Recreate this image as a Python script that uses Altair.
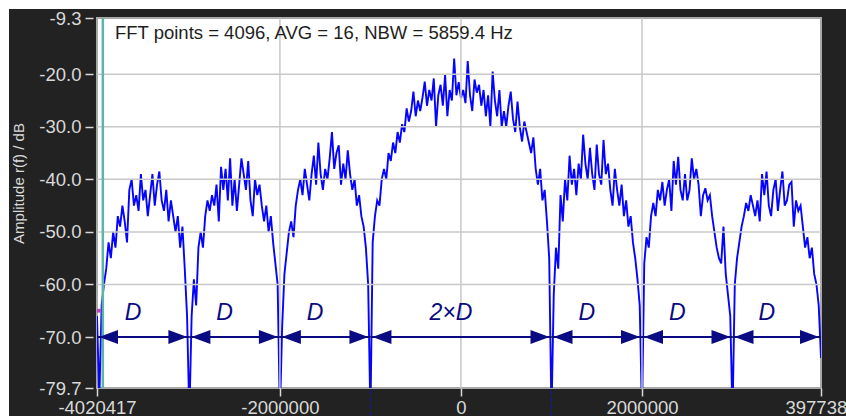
import altair as alt
import numpy as np
import pandas as pd

# ---------------- data ----------------
X_MIN, X_MAX = -4020417, 3977383
Y_MIN, Y_MAX = -79.7, -9.3

x_ticks = [-4020417, -2000000, 0, 2000000, 3977383]
y_ticks = [-79.7, -70.0, -60.0, -50.0, -40.0, -30.0, -20.0, -9.3]
x_grid = [-2000000, 0, 2000000]
y_grid = [-70.0, -60.0, -50.0, -40.0, -30.0, -20.0]

# spectrum nulls / lobe boundaries (Hz)
lobe_edges = [-4020417, -3000000, -2000000, -1000000, 1000000, 2000000, 3000000, 3977383]

# amplitude readings (dB) across each lobe
lobe_1 = [-66, -82, -64, -60, -57, -52, -55, -50, -53, -47, -49, -45, -48, -52, -42, -40,
          -45, -43, -46, -39, -44, -42, -47, -43, -39, -45, -41, -38.5, -44, -46, -42, -48,
          -44, -47, -50, -47, -53, -49, -57, -66]
lobe_2 = [-85, -66, -59, -64, -53, -50, -53, -47, -44, -46, -43, -45, -41, -48, -37.6, -42,
          -38, -44, -36, -45, -40, -46, -41, -36, -39, -42, -36.5, -44, -47, -40, -43, -41,
          -45, -48, -45, -50, -47, -52, -56, -60]
lobe_3 = [-85, -68, -58, -54, -50, -48, -51, -45, -42, -40, -43, -38, -41, -44, -39, -35.5,
          -41, -33, -39, -42, -38, -40, -36, -31, -38, -35, -33.5, -41, -37, -40, -34.5, -39,
          -42, -40, -45, -43, -47, -49, -53, -60]
lobe_main = [-85, -52, -47, -44, -45, -40, -38, -40, -35, -36.5, -33, -35, -31, -33, -29.5, -31,
             -26.5, -29, -27, -23.3, -28, -25, -27, -24.5, -21.4, -26, -23, -25, -20.8, -30, -24, -22,
             -26, -20.1, -28, -23, -25, -17, -24, -21.5, -24.5, -23, -25.5, -17.5, -24, -27, -21, -23.5,
             -22, -26, -23, -28, -24, -30, -19.5, -25, -28, -23, -30, -27, -30, -26, -23.3, -28.5,
             -31, -25.2, -30, -32.8, -29, -31, -33, -35, -32, -37.9, -41, -38, -44, -42, -48, -55]
lobe_5 = [-85, -62, -53, -57, -43, -48, -40, -44, -35.5, -41, -38, -43, -37, -40, -31.5, -37,
          -40, -34, -39, -42, -33.4, -39, -41, -32.5, -39, -37, -42, -45, -38, -42, -45, -41,
          -47, -44, -49, -47, -52, -55, -59, -64]
lobe_6 = [-85, -56, -51, -53, -47, -44.5, -47, -42, -44, -40.5, -45, -42, -40, -46, -36.5, -41,
          -35.7, -42, -44, -39, -44, -42, -36, -40, -38, -41, -47, -43, -41.7, -44, -43, -47,
          -50, -53, -55, -56, -49, -58, -62, -66]
lobe_7 = [-85, -60, -55, -52, -49, -47, -44.5, -46, -43, -45, -47, -44, -48, -39, -43, -38.5,
          -45, -47, -42, -40, -46, -42, -38.5, -45, -44, -41, -40.5, -49, -44, -46, -45, -49,
          -53, -51, -55, -53, -58, -60, -64, -74]
lobes = [lobe_1, lobe_2, lobe_3, lobe_main, lobe_5, lobe_6, lobe_7]

span_labels = ["D", "D", "D", "2\u00d7D", "D", "D", "D"]
arrow_level = -70.0
label_level = -65.4
marker_top = -76.2          # where the dashed markers start
dashed_marks = [-1000000, 1000000]
cursor_f = -3956000
cursor_marker = (-4000000, -65.0)

annotation = "FFT points = 4096, AVG = 16, NBW = 5859.4 Hz"
annotation_pos = (-3822000, -13.3)
y_title = "Amplitude r(f) / dB"

# ---------------- tables ----------------
rows = []
for i, vals in enumerate(lobes):
    last = i == len(lobes) - 1
    fs = np.linspace(lobe_edges[i], lobe_edges[i + 1], len(vals), endpoint=last)
    rows += list(zip(fs, vals))
spec = pd.DataFrame(rows, columns=["f", "amp"])

seg = pd.DataFrame({
    "start": lobe_edges[:-1],
    "end": lobe_edges[1:],
    "label": span_labels,
})
seg["mid"] = (seg["start"] + seg["end"]) / 2

xs = alt.Scale(domain=[X_MIN, X_MAX], nice=False, zero=False)
ys = alt.Scale(domain=[Y_MIN, Y_MAX], nice=False, zero=False)

LABEL_COL = "#d9d9d9"
NAVY = "#0a0a82"
FONT = "Liberation Sans"

neg_fmt_y = "datum.value < 0 ? '-' + format(-datum.value, '.1f') : format(datum.value, '.1f')"
neg_fmt_x = "datum.value < 0 ? '-' + format(-datum.value, 'd') : format(datum.value, 'd')"

x_axis = alt.Axis(
    values=x_ticks, labelExpr=neg_fmt_x, grid=False, domain=False, tickSize=8,
    tickColor=LABEL_COL, tickWidth=1.5, labelColor=LABEL_COL, labelFontSize=18.5,
    labelFont=FONT, labelPadding=2, labelFlush=False, labelOverlap=False, title=None)
y_axis = alt.Axis(
    values=y_ticks, labelExpr=neg_fmt_y, grid=False, domain=False, tickSize=8,
    tickColor=LABEL_COL, tickWidth=1.5, labelColor=LABEL_COL, labelFontSize=18.5,
    labelFont=FONT, labelPadding=4, offset=4, labelFlush=False, labelOverlap=False,
    title=y_title, titleColor=LABEL_COL, titleFontSize=15, titleFont=FONT,
    titleFontWeight="normal", titleX=-75, titleY=165, titleAngle=270,
    titleAlign="center", titleBaseline="middle")

line = alt.Chart(spec).mark_line(color="#0505ff", strokeWidth=1.9, clip=True).encode(
    x=alt.X("f:Q", scale=xs, axis=x_axis),
    y=alt.Y("amp:Q", scale=ys, axis=y_axis),
    order="f:Q",
)

# white margin strips of the window
strip_top = alt.Chart(pd.DataFrame({"k": [0]})).mark_rect(color="white").encode(
    x=alt.value(-97), x2=alt.value(749), y=alt.value(-18), y2=alt.value(-9))
strip_left = alt.Chart(pd.DataFrame({"k": [0]})).mark_rect(color="white").encode(
    x=alt.value(-97), x2=alt.value(-88), y=alt.value(-18), y2=alt.value(398))

grid_v = alt.Chart(pd.DataFrame({"f": x_grid})).mark_rule(color="#c8c8c8", strokeWidth=1.5).encode(
    x=alt.X("f:Q", scale=xs))
grid_h = alt.Chart(pd.DataFrame({"amp": y_grid})).mark_rule(color="#c8c8c8", strokeWidth=1.5).encode(
    y=alt.Y("amp:Q", scale=ys))

cursor = alt.Chart(pd.DataFrame({"f": [cursor_f]})).mark_rule(
    color="#5fb3ad", strokeWidth=2.5).encode(x=alt.X("f:Q", scale=xs))

marker = alt.Chart(pd.DataFrame({"f": [cursor_marker[0]], "amp": [cursor_marker[1]]})).mark_point(
    shape="square", filled=True, color="#c040c0", size=14, opacity=1).encode(
    x=alt.X("f:Q", scale=xs), y=alt.Y("amp:Q", scale=ys))

dashed = alt.Chart(pd.DataFrame({"f": dashed_marks})).mark_rule(
    color="#1a1a8c", strokeWidth=1.5, strokeDash=[4, 3]).encode(
    x=alt.X("f:Q", scale=xs), y=alt.datum(marker_top), y2=alt.value(398))

arrow_line = alt.Chart(seg).mark_rule(color=NAVY, strokeWidth=2).encode(
    x=alt.X("start:Q", scale=xs), x2="end:Q",
    y=alt.datum(arrow_level))

head_r = alt.Chart(seg).mark_point(
    shape="M-1,-0.37L0,0L-1,0.37Z", size=1444, filled=True, color=NAVY, opacity=1,
    strokeWidth=0, xOffset=-2).encode(
    x=alt.X("end:Q", scale=xs), y=alt.datum(arrow_level))
head_l = alt.Chart(seg).mark_point(
    shape="M1,-0.37L0,0L1,0.37Z", size=1444, filled=True, color=NAVY, opacity=1,
    strokeWidth=0, xOffset=2).encode(
    x=alt.X("start:Q", scale=xs), y=alt.datum(arrow_level))

dlabels = alt.Chart(seg).mark_text(
    font=FONT, fontStyle="italic", fontSize=23, color=NAVY, dx=-10, baseline="middle").encode(
    x=alt.X("mid:Q", scale=xs), y=alt.datum(label_level), text="label:N")

ann = alt.Chart(pd.DataFrame({"f": [annotation_pos[0]], "amp": [annotation_pos[1]], "t": [annotation]})).mark_text(
    align="left", baseline="alphabetic", font=FONT, fontSize=18.5, color="#1e1e1e").encode(
    x=alt.X("f:Q", scale=xs), y=alt.Y("amp:Q", scale=ys), text="t:N")

chart = alt.layer(
    line, strip_top, strip_left, grid_v, grid_h, cursor, dashed,
    arrow_line, head_r, head_l, dlabels, ann, marker,
).properties(
    width=724, height=370,
    autosize=alt.AutoSizeParams(type="none"),
    padding={"left": 97, "top": 18, "right": 25, "bottom": 28},
    background="#222222",
).configure_view(fill="white", stroke="#a8a8a8", strokeWidth=2)

chart.save("out.html", embed_options={"renderer": "svg", "actions": False})
